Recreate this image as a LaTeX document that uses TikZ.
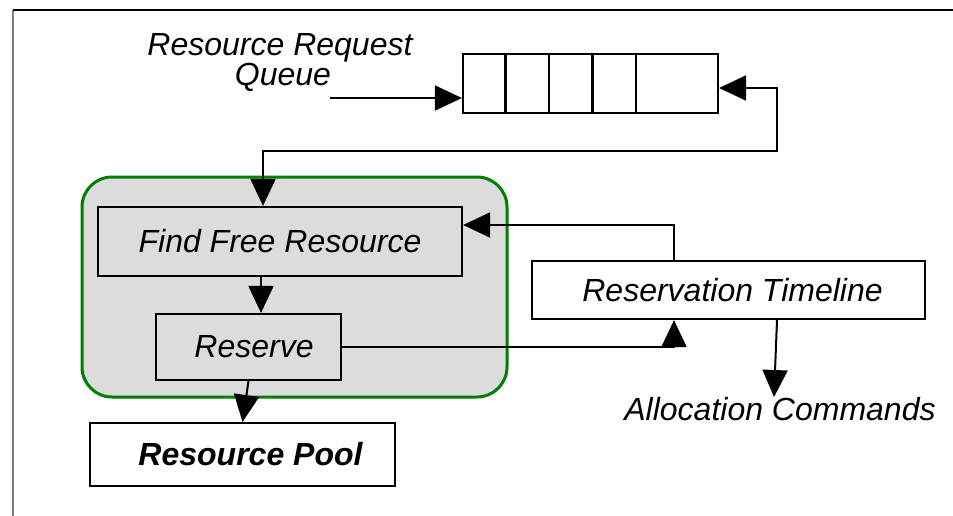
\documentclass[tikz,border=0pt]{standalone}
\usepackage{fontspec}
\setmainfont{Liberation Sans}
\usetikzlibrary{arrows.meta}
\definecolor{grisbloque}{HTML}{DCDCDC}
\definecolor{verdemarco}{HTML}{008000}
\begin{document}
\begin{tikzpicture}[x=1pt,y=-1pt,
  >={Triangle[length=27pt,width=25pt]},
  texto/.style={font=\fontsize{32}{30}\selectfont\itshape, align=center},
  caja/.style={draw, line width=2.2pt, fill=white, texto},
  grupo/.style={draw=verdemarco, line width=3pt, fill=grisbloque, rounded corners=30pt},
  flecha/.style={line width=2pt, ->}]
\useasboundingbox (0,0) rectangle (953,516);
% Marco
\draw[gray, line width=1.5pt] (13,516) -- (13,10);
\draw[line width=1.5pt] (13,10) -- (953,10);
% Bloque de asignacion
\node[grupo, minimum width=425pt, minimum height=220pt] (proc) at (294.5,287) {};
% Cajas
\node[caja, fill=grisbloque, minimum width=364pt, minimum height=69pt] (buscar) at (280,241.5) {Find Free Resource};
\node[caja, fill=grisbloque, minimum width=185pt, minimum height=66pt] (reservar) at (248.5,347) {\hspace*{11pt}Reserve};
\node[caja, font=\fontsize{32}{30}\selectfont\bfseries\itshape, minimum width=305pt, minimum height=63pt] (pool) at (242.5,454.5) {\hspace*{16pt}Resource Pool};
\node[caja, minimum width=393pt, minimum height=58pt] (linea) at (728.5,290) {\hspace*{8pt}Reservation Timeline};
% Cola
\node[draw, line width=2.2pt, minimum width=255pt, minimum height=59pt] (cola) at (590.5,83.5) {};
\foreach \i in {1,...,4}
  \draw[line width=2.2pt] ([xshift={\i*43.5pt}]cola.north west) -- ([xshift={\i*43.5pt}]cola.south west);
% Etiquetas
\node[texto] (etqcola) at (280,63) {Resource Request\\\hspace*{6pt}Queue};
\node[texto, inner sep=0pt, anchor=north] (asig) at (780,397) {Allocation Commands};
% Conectores
\coordinate (entrada) at (330,98);
\coordinate (lazo) at (777,151);
\draw[flecha] (entrada) -- (entrada -| cola.west);
\draw[flecha, <->] ([yshift=-4.5pt]cola.east) -| (lazo) -| ([xshift=-17pt]buscar.north);
\draw[flecha] ([xshift=-19pt]buscar.south) -- ([xshift=12.5pt]reservar.north);
\draw[flecha] (reservar.south) -- (pool.north);
\draw[flecha] (reservar.east) -| ([xshift=-54.5pt]linea.south);
\draw[flecha] ([xshift=-54.5pt]linea.north) |- ([yshift=16.5pt]buscar.east);
\draw[flecha] ([xshift=48.5pt]linea.south) -- ([xshift=-6pt]asig.north);
\end{tikzpicture}
\end{document}
